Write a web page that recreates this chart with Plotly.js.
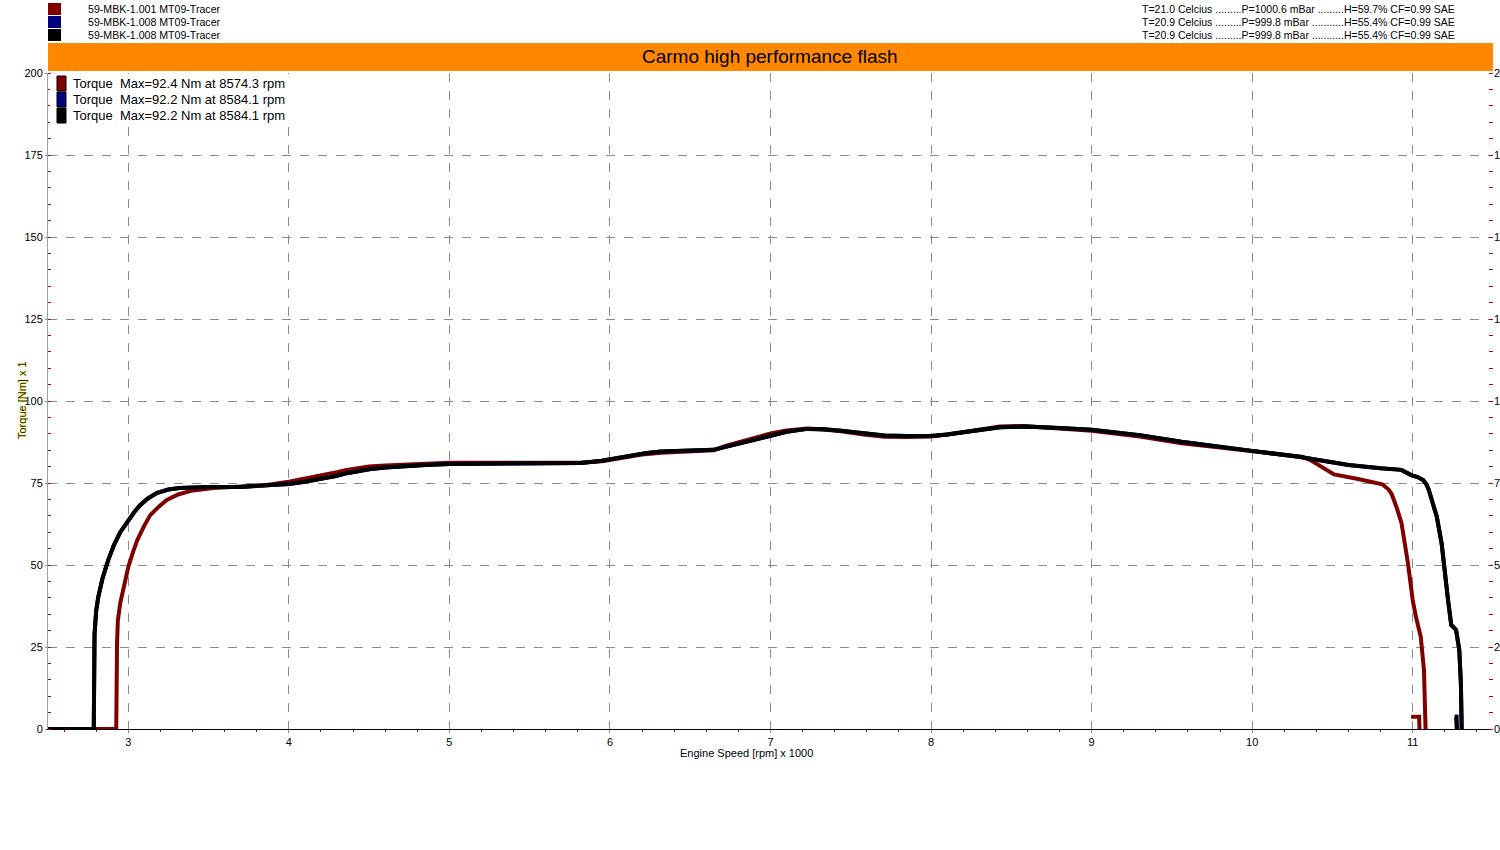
<!DOCTYPE html>
<html>
<head>
<meta charset="utf-8">
<script src="https://cdn.plot.ly/plotly-3.0.1.min.js"></script>
<style>html,body{margin:0;padding:0;background:#fff;}#chart{width:1500px;height:850px;}</style>
</head>
<body>
<div id="chart"></div>
<script>
// ---- data (engine speed in rpm x 1000, torque in Nm) ----
const rpmRed = [2.5, 2.925, 2.93, 2.935, 2.95, 2.975, 3.0, 3.03, 3.056, 3.1, 3.137, 3.19, 3.24, 3.31, 3.39, 3.53, 3.7, 3.85, 4.0, 4.1, 4.2, 4.3, 4.36, 4.45, 4.5, 4.6, 4.675, 4.85, 5.0, 5.4, 5.818, 5.95, 6.0, 6.13, 6.22, 6.317, 6.5, 6.647, 6.72, 6.815, 6.9, 7.0, 7.1, 7.23, 7.33, 7.44, 7.58, 7.71, 7.85, 8.0, 8.1, 8.22, 8.33, 8.43, 8.574, 8.7, 8.8, 9.0, 9.3, 9.56, 9.8, 10.0, 10.31, 10.37, 10.43, 10.51, 10.66, 10.74, 10.81, 10.85, 10.87, 10.9, 10.93, 10.97, 11.0, 11.02, 11.05, 11.07, 11.08, null, 10.99, 11.04, 11.042];
const torqueRed = [0, 0, 26, 33, 38.4, 44, 49.4, 54, 57.6, 62, 65.2, 67.8, 69.8, 71.5, 72.6, 73.5, 73.8, 74.3, 75.4, 76.3, 77.3, 78.3, 79, 79.6, 80, 80.3, 80.5, 81, 81.2, 81.2, 81.2, 81.6, 82.0, 83.2, 83.8, 84.2, 84.6, 85.0, 86.3, 87.5, 88.8, 90.1, 91.0, 91.6, 91.3, 90.8, 89.8, 89.1, 89.0, 89.2, 89.8, 90.6, 91.5, 92.2, 92.4, 92.0, 91.5, 90.9, 89.2, 87.1, 85.8, 84.6, 83.0, 81.8, 80.0, 77.6, 76.2, 75.5, 74.6, 73, 71.5, 67.5, 62.8, 50.6, 39.3, 34.2, 28.1, 18, 0, null, 3.7, 3.7, 0];

const rpmBlack = [2.5, 2.785, 2.79, 2.80, 2.813, 2.84, 2.875, 2.91, 2.95, 3.0, 3.04, 3.075, 3.12, 3.18, 3.25, 3.32, 3.5, 3.7, 3.9, 4.0, 4.1, 4.2, 4.3, 4.36, 4.45, 4.5, 4.6, 4.675, 4.85, 5.0, 5.4, 5.818, 5.95, 6.0, 6.13, 6.22, 6.317, 6.5, 6.647, 6.72, 6.815, 6.9, 7.0, 7.1, 7.23, 7.33, 7.44, 7.58, 7.71, 7.85, 8.0, 8.1, 8.22, 8.33, 8.43, 8.584, 8.7, 8.8, 9.0, 9.3, 9.56, 9.8, 10.0, 10.29, 10.45, 10.6, 10.8, 10.93, 10.99, 11.03, 11.065, 11.085, 11.1, 11.125, 11.15, 11.18, 11.2, 11.22, 11.24, 11.27, 11.29, 11.30, 11.305, null, 11.262, 11.272, 11.275];
const torqueBlack = [0, 0, 29, 36, 40.2, 46, 51.5, 56, 60, 63.7, 66.3, 68.3, 70.2, 72, 73, 73.5, 73.8, 73.8, 74.2, 74.7, 75.4, 76.2, 77.2, 78, 78.8, 79.2, 79.7, 80, 80.5, 80.8, 81, 81.1, 81.8, 82.2, 83.5, 84.1, 84.6, 84.9, 85.1, 86, 87.1, 88.3, 89.3, 90.6, 91.5, 91.4, 90.9, 90.1, 89.5, 89.3, 89.3, 89.8, 90.6, 91.4, 92.0, 92.2, 92.1, 91.8, 91.2, 89.6, 87.6, 86.2, 84.8, 83.0, 81.8, 80.5, 79.5, 79.0, 77.4, 76.8, 75.9, 74.6, 72.9, 69, 64.7, 56.6, 46.4, 39.3, 31.7, 30.2, 24.1, 13.9, 0, null, 3.7, 3.7, 0];

// blue run is identical to the black run (drawn underneath it)
const rpmBlue = rpmBlack.slice();
const torqueBlue = torqueBlack.slice();

const runNames = ["59-MBK-1.001 MT09-Tracer", "59-MBK-1.008 MT09-Tracer", "59-MBK-1.008 MT09-Tracer"];
const runColors = ["#800000", "#000080", "#000000"];
const conditions = [
  "T=21.0 Celcius .........P=1000.6 mBar .........H=59.7% CF=0.99 SAE",
  "T=20.9 Celcius .........P=999.8 mBar ...........H=55.4% CF=0.99 SAE",
  "T=20.9 Celcius .........P=999.8 mBar ...........H=55.4% CF=0.99 SAE"
];
const maxLabels = [
  "Torque  Max=92.4 Nm at 8574.3 rpm",
  "Torque  Max=92.2 Nm at 8584.1 rpm",
  "Torque  Max=92.2 Nm at 8584.1 rpm"
];
const chartTitle = "Carmo high performance flash";
const xTitle = "Engine Speed [rpm] x 1000";
const yTitle = "Torque [Nm] x 1";
const xTicks = [3, 4, 5, 6, 7, 8, 9, 10, 11];
const yTicks = [0, 25, 50, 75, 100, 125, 150, 175, 200];

// ---- layout helpers ----
const W = 1500, H = 850, L = 48, R = 7, T = 73, B = 121;
const pw = W - L - R, ph = H - T - B;
const px = x => (x - L) / pw;
const py = y => (H - B - y) / ph;

const FONT = "Liberation Sans, Arial, sans-serif";

const traces = [
  {x: rpmRed, y: torqueRed, mode: "lines", line: {color: runColors[0], width: 4}, name: runNames[0], connectgaps: false},
  {x: rpmBlue, y: torqueBlue, mode: "lines", line: {color: runColors[1], width: 4}, name: runNames[1], connectgaps: false},
  {x: rpmBlack, y: torqueBlack, mode: "lines", line: {color: runColors[2], width: 4}, name: runNames[2], connectgaps: false},
  {x: [2.5, 11.5], y: [null, null], yaxis: "y2", mode: "lines", showlegend: false, hoverinfo: "skip"}
];

const shapes = [];
const annotations = [];

// orange title bar
shapes.push({type: "rect", xref: "paper", yref: "paper", x0: 0, x1: 1, y0: py(71), y1: py(43), fillcolor: "#ff8800", line: {width: 0}, layer: "above"});
annotations.push({xref: "paper", yref: "paper", x: px(770), y: py(57), text: chartTitle, showarrow: false, xanchor: "center", yanchor: "middle", font: {family: FONT, size: 19, color: "#000"}});

// top-left run list and top-right conditions
for (let i = 0; i < 3; i++) {
  const top = 3 + i * 13;
  shapes.push({type: "rect", xref: "paper", yref: "paper", x0: px(48), x1: px(61), y0: py(top + 12), y1: py(top), fillcolor: runColors[i], line: {width: 0}});
  annotations.push({xref: "paper", yref: "paper", x: px(86), y: py(top + 6), text: runNames[i], showarrow: false, xanchor: "left", yanchor: "middle", font: {family: FONT, size: 10.6, color: "#000"}});
  annotations.push({xref: "paper", yref: "paper", x: px(1140), y: py(top + 6), text: conditions[i], showarrow: false, xanchor: "left", yanchor: "middle", font: {family: FONT, size: 10.5, color: "#000"}});
}

// inner legend box
shapes.push({type: "rect", xref: "paper", yref: "paper", x0: px(50), x1: px(290), y0: py(124), y1: py(74), fillcolor: "#ffffff", line: {width: 0}, layer: "above"});
for (let i = 0; i < 3; i++) {
  const top = 76 + i * 16;
  shapes.push({type: "rect", xref: "paper", yref: "paper", x0: px(57), x1: px(66), y0: py(top + 15), y1: py(top), fillcolor: runColors[i], line: {color: "#000", width: 1}, layer: "above"});
  annotations.push({xref: "paper", yref: "paper", x: px(71), y: py(top + 7.5), text: maxLabels[i], showarrow: false, xanchor: "left", yanchor: "middle", font: {family: FONT, size: 13, color: "#000"}});
}

// axis titles
annotations.push({xref: "paper", yref: "paper", x: px(746), y: py(753), text: xTitle, showarrow: false, xanchor: "center", yanchor: "middle", font: {family: FONT, size: 11, color: "#000"}});
annotations.push({xref: "paper", yref: "paper", x: px(22), y: py(400), text: yTitle, textangle: -90, showarrow: false, xanchor: "center", yanchor: "middle", font: {family: FONT, size: 11, color: "#222200", shadow: "0px 0px 2px #ffff00"}});

const layout = {
  width: W, height: H,
  margin: {l: L, r: R, t: T, b: B, pad: 0},
  paper_bgcolor: "#ffffff", plot_bgcolor: "#ffffff",
  showlegend: false,
  font: {family: FONT, size: 11, color: "#000"},
  xaxis: {
    range: [2.5, 11.5], tickvals: xTicks, ticktext: xTicks.map(String),
    showgrid: true, gridcolor: "#8a8a8a", griddash: "dash", gridwidth: 1,
    zeroline: false, showline: true, linecolor: "#000", linewidth: 1,
    ticks: "outside", ticklen: 3, tickcolor: "#8a8a8a", tickfont: {size: 11},
    minor: {dtick: 0.2, ticks: "outside", ticklen: 2, tickcolor: "#c00000", showgrid: false},
    fixedrange: true
  },
  yaxis: {
    range: [0, 200], tickvals: yTicks, ticktext: yTicks.map(String),
    showgrid: true, gridcolor: "#8a8a8a", griddash: "dash", gridwidth: 1,
    zeroline: false, showline: true, linecolor: "#a0a0a0", linewidth: 1,
    ticks: "outside", ticklen: 2, tickcolor: "#8a8a8a", tickfont: {size: 11},
    minor: {dtick: 5, ticks: "inside", ticklen: 3, tickcolor: "#c00000", showgrid: false},
    fixedrange: true
  },
  yaxis2: {
    overlaying: "y", side: "right", range: [0, 200], tickvals: yTicks, ticktext: yTicks.map(String),
    showgrid: false, zeroline: false, showline: false,
    ticks: "", tickfont: {size: 11},
    minor: {dtick: 5, ticks: "inside", ticklen: 4, tickcolor: "#c00000", showgrid: false},
    fixedrange: true
  },
  shapes: shapes,
  annotations: annotations
};

Plotly.newPlot("chart", traces, layout, {staticPlot: true, displayModeBar: false});
</script>
</body>
</html>
